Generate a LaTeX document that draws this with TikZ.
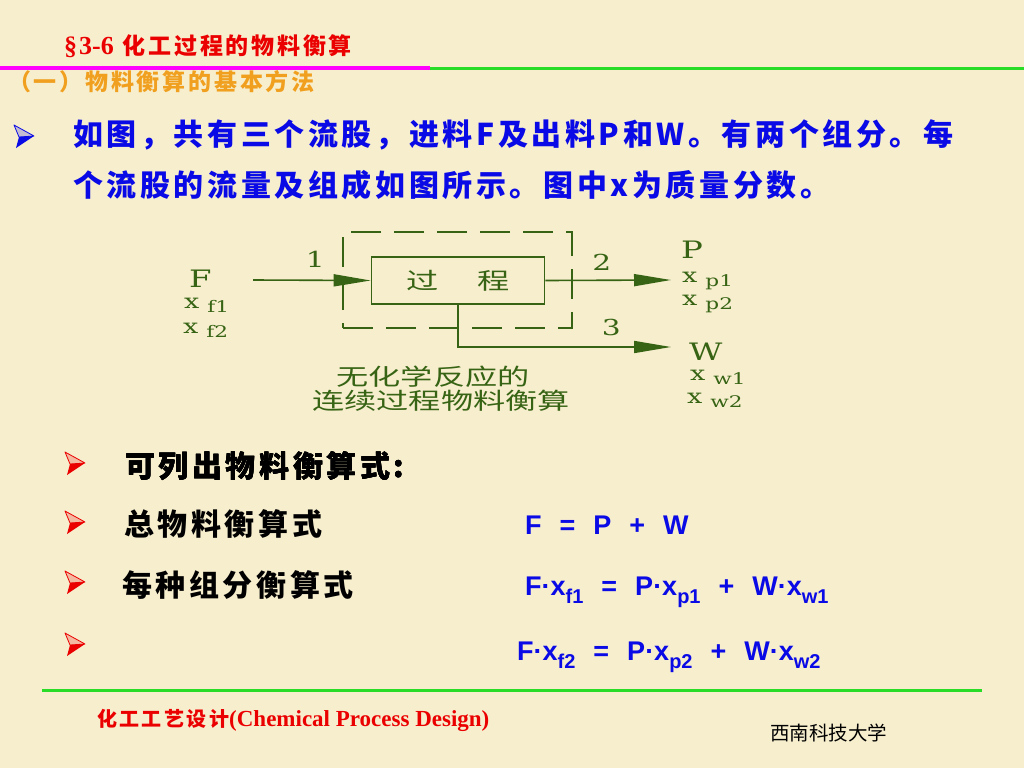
\documentclass[tikz,border=0pt]{standalone}
\usepackage{fontspec}
\setmainfont{Liberation Serif}
\newfontfamily\cjk{Noto Sans CJK SC}
\newfontfamily\cjkspread[LetterSpace=12]{Noto Sans CJK SC}
\newfontfamily\cjkdia[FakeStretch=1.4]{Noto Sans CJK SC}
\newfontfamily\diaserif[FakeStretch=1.35]{DejaVu Serif}
\newfontfamily\eqsans{Liberation Sans}
\newfontfamily\titleserif{Liberation Serif}
\usetikzlibrary{arrows.meta,positioning}
\definecolor{SlideBg}{RGB}{247,238,206}
\definecolor{TitleRed}{RGB}{235,0,0}
\definecolor{SubOrange}{RGB}{240,160,30}
\definecolor{TextBlue}{RGB}{10,10,230}
\definecolor{DiaGreen}{RGB}{55,100,20}
\definecolor{RuleGreen}{RGB}{40,220,40}
\definecolor{RuleMagenta}{RGB}{255,0,255}
\tikzset{
Flow/.style={draw=DiaGreen,line width=1.6,-{Triangle[length=37pt,width=12pt]}},
Box/.style={draw=DiaGreen,line width=1.6,minimum width=173,minimum height=47,inner sep=0},
Bound/.style={draw=DiaGreen,line width=1.6,dash pattern=on 30pt off 13pt,minimum width=229,minimum height=96,inner sep=0},
Tag/.style={text=DiaGreen,font=\diaserif\fontsize{22}{22}\selectfont,inner sep=1},
Stream/.style={anchor=base west,inner sep=0,text=DiaGreen,font=\diaserif\fontsize{24}{24}\selectfont},
Frac/.style={anchor=base west,inner sep=0,text=DiaGreen,font=\diaserif\fontsize{20}{20}\selectfont},
Note/.style={inner sep=0,text=DiaGreen,font=\cjkdia\fontsize{23}{23}\selectfont},
Say/.style={anchor=west,inner sep=0,font=\cjkspread\bfseries\fontsize{30}{30}\selectfont},
Eq/.style={anchor=base west,inner sep=0,text=TextBlue,font=\eqsans\bfseries\fontsize{27}{27}\selectfont}
}
\newcommand{\Comp}[1]{x\hspace{8pt}\raisebox{-4pt}{\fontsize{16}{16}\selectfont #1}}
\newcommand{\EqSub}[1]{\raisebox{-8pt}{\fontsize{20}{20}\selectfont #1}}
\newcommand{\Gap}{\hspace{18pt}}
\newcommand{\Pointer}[2]{% colour, centre
	\begin{scope}[shift={(#2)}]
		\filldraw[draw=#1,fill=#1!22!SlideBg,line width=0.8,line join=round] (-10,-11) -- (10,0) -- (-5,1) -- cycle;
		\fill[#1] (-5,1) -- (10,0) -- (-8,12) -- cycle;
	\end{scope}}
\begin{document}
\begin{tikzpicture}[x=1pt,y=-1pt]
	\fill[SlideBg] (0,0) rectangle (1024,768);
	\useasboundingbox (0,0) rectangle (1024,768);
	
	% Header
	\node[anchor=west,inner sep=0,text=TitleRed] (Title) at (64,46)
		{{\titleserif\bfseries\fontsize{26}{26}\selectfont §\hspace{2pt}3-6}\hspace{9pt}{\cjkspread\bfseries\fontsize{23}{23}\selectfont 化工过程的物料衡算}};
	\draw[RuleMagenta,line width=4] (0,68) -- (430,68);
	\draw[RuleGreen,line width=3] (430,68) -- (1024,68);
	\node[anchor=west,inner sep=0,text=SubOrange] (Section) at (8,82)
		{\fontsize{23}{23}\selectfont\cjkspread\bfseries （一）物料衡算的基本方法};
	
	% Intro
	\Pointer{TextBlue}{24,136}
	\node[Say,text=TextBlue] (Intro1) at (73,135) {如图，共有三个流股，进料F及出料P和W。有两个组分。每};
	\node[Say,text=TextBlue] (Intro2) at (73,185) {个流股的流量及组成如图所示。图中x为质量分数。};
	
	% Diagram
	\begin{scope}
		\node[Bound] (Envelope) at (457.5,280) {};
		\node[Box,text=DiaGreen,font=\cjkdia\fontsize{23}{23}\selectfont] (Proc) at (458,280.5) {过\hspace{38pt}程};
		
		\coordinate (Fin) at (253,280);
		\coordinate (Pout) at (671,280);
		\coordinate (Wout) at (671,347);
		\draw[Flow] (Fin) -- node[Tag,pos=0.53,above=11pt] (L1) {1} (Proc.west);
		\draw[Flow] (Proc.east) -- node[Tag,pos=0.45,above=8pt] (L2) {2} (Pout);
		\draw[Flow] (Proc.south) |- node[Tag,pos=0.86,above=9pt] (L3) {3} (Wout);
		
		\node[Stream] (Fname) at (189,287) {F};
		\node[Frac] (Xf1) at (184,308) {\Comp{f1}};
		\node[Frac] (Xf2) at (183,333) {\Comp{f2}};
		
		\node[Stream] (Pname) at (681,258) {P};
		\node[Frac] (Xp1) at (682,282) {\Comp{p1}};
		\node[Frac] (Xp2) at (682,305) {\Comp{p2}};
		
		\node[Stream] (Wname) at (689,360) {W};
		\node[Frac] (Xw1) at (690,380) {\Comp{w1}};
		\node[Frac] (Xw2) at (687,403) {\Comp{w2}};
		
		\node[Note] (Cap1) at (433,377) {无化学反应的};
		\node[Note] (Cap2) at (441,401) {连续过程物料衡算};
	\end{scope}
	
	% Balances
	\foreach \y in {463,522,582,644}
		\Pointer{TitleRed}{75,\y}
	\node[Say] (Say1) at (125,466) {可列出物料衡算式:};
	\node[Say] (Say2) at (124,524) {总物料衡算式};
	\node[Say] (Say3) at (122,585) {每种组分衡算式};
	\node[Eq] (Total) at (525,534) {F\Gap=\Gap P\Gap+\Gap W};
	\node[Eq] (Comp1) at (525,595) {F·x\EqSub{f1}\Gap=\Gap P·x\EqSub{p1}\Gap+\Gap W·x\EqSub{w1}};
	\node[Eq] (Comp2) at (517,660) {F·x\EqSub{f2}\Gap=\Gap P·x\EqSub{p2}\Gap+\Gap W·x\EqSub{w2}};
	
	% Footer
	\draw[RuleGreen,line width=3] (42,690) -- (982,690);
	\node[anchor=west,inner sep=0,text=TitleRed] (Course) at (97,720)
		{{\cjkspread\bfseries\fontsize{20}{20}\selectfont 化工工艺设计}{\titleserif\bfseries\fontsize{23}{23}\selectfont (Chemical Process Design)}};
	\node[anchor=west,inner sep=0] (School) at (770,733) {\cjk\fontsize{19.5}{19.5}\selectfont 西南科技大学};
\end{tikzpicture}
\end{document}
